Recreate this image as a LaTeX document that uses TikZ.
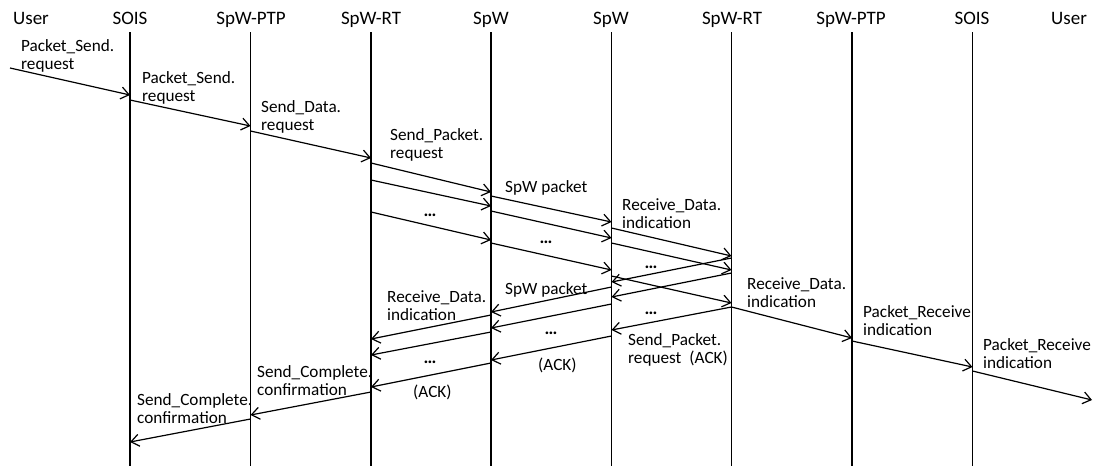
\documentclass[tikz,border=0pt]{standalone}
\usepackage{fontspec}
\setmainfont{Carlito}
\usetikzlibrary{arrows.meta}
\begin{document}
\begin{tikzpicture}[x=1pt,y=-1pt,
  life/.style={line width=1.2pt},
  msg/.style={line width=1.2pt,-{Straight Barb[length=8pt,width=12pt,line width=1.2pt]}},
  hdr/.style={font=\fontsize{19}{22}\selectfont,anchor=base,inner sep=0pt},
  lbl/.style={font=\fontsize{17.2}{18.2}\selectfont,align=left,anchor=north west,inner sep=0pt},
  dotsn/.style={font=\fontsize{18}{20}\selectfont\bfseries,anchor=base,inner sep=0pt}]
\useasboundingbox (0,0) rectangle (1094,466);

% headers
\node[hdr] (hU1) at (31,24.5) {User};
\node[hdr] (hS1) at (130,24.5) {SOIS};
\node[hdr] (hP1) at (251,24.5) {SpW-PTP};
\node[hdr] (hR1) at (371,24.5) {SpW-RT};
\node[hdr] (hW1) at (491,24.5) {SpW};
\node[hdr] (hW2) at (611,24.5) {SpW};
\node[hdr] (hR2) at (732,24.5) {SpW-RT};
\node[hdr] (hP2) at (851,24.5) {SpW-PTP};
\node[hdr] (hS2) at (972,24.5) {SOIS};
\node[hdr] (hU2) at (1069,24.5) {User};

% lifeline coordinates
\coordinate (U1) at (10,32);
\coordinate (S1) at (130,32);
\coordinate (P1) at (250.5,32);
\coordinate (R1) at (371,32);
\coordinate (W1) at (491,32);
\coordinate (W2) at (611.5,32);
\coordinate (R2) at (731.5,32);
\coordinate (P2) at (852,32);
\coordinate (S2) at (972.5,32);
\coordinate (U2) at (1092,32);
\foreach \l in {S1,P1,R1,W1,W2,R2,P2,S2}
  \draw[life] (\l) -- (\l |- 0,466);

% forward messages
\draw[msg] (U1 |- 0,68) -- (S1 |- 0,95);
\draw[msg] (S1 |- 0,100) -- (P1 |- 0,126);
\draw[msg] (P1 |- 0,131) -- (R1 |- 0,158);
\draw[msg] (R1 |- 0,163) -- (W1 |- 0,192);
\draw[msg] (R1 |- 0,180) -- (W1 |- 0,206);
\draw[msg] (R1 |- 0,212) -- (W1 |- 0,240);
\draw[msg] (W1 |- 0,196) -- (W2 |- 0,222);
\draw[msg] (W1 |- 0,211) -- (W2 |- 0,238);
\draw[msg] (W1 |- 0,243) -- (W2 |- 0,270);
\draw[msg] (W2 |- 0,228) -- (R2 |- 0,256);
\draw[msg] (W2 |- 0,243) -- (R2 |- 0,270);
\draw[msg] (W2 |- 0,276) -- (R2 |- 0,303);
\draw[msg] (R2 |- 0,307) -- (P2 |- 0,338);
\draw[msg] (P2 |- 0,341) -- (S2 |- 0,367);
\draw[msg] (S2 |- 0,371) -- (U2 |- 0,400);

% backward messages
\draw[msg] (R2 |- 0,258) -- (W2 |- 0,282);
\draw[msg] (R2 |- 0,273) -- (W2 |- 0,297);
\draw[msg] (R2 |- 0,307) -- (W2 |- 0,330);
\draw[msg] (W2 |- 0,287) -- (W1 |- 0,312);
\draw[msg] (W2 |- 0,304) -- (W1 |- 0,328);
\draw[msg] (W2 |- 0,336) -- (W1 |- 0,360);
\draw[msg] (W1 |- 0,315) -- (R1 |- 0,339);
\draw[msg] (W1 |- 0,332) -- (R1 |- 0,355);
\draw[msg] (W1 |- 0,363) -- (R1 |- 0,387);
\draw[msg] (R1 |- 0,392) -- (P1 |- 0,415);
\draw[msg] (P1 |- 0,419) -- (S1 |- 0,442);

% labels
\node[lbl] (t1) at (21,39) {Packet\_Send.\\request};
\node[lbl] (t2) at (142,71) {Packet\_Send.\\request};
\node[lbl] (t3) at (261,100) {Send\_Data.\\request};
\node[lbl] (t4) at (390,128) {Send\_Packet.\\request};
\node[lbl] (t5) at (505,180) {SpW packet};
\node[lbl] (t6) at (622,198) {Receive\_Data.\\indication};
\node[lbl] (t7) at (505,282) {SpW packet};
\node[lbl] (t8) at (387,290) {Receive\_Data.\\indication};
\node[lbl] (t9) at (628,333) {Send\_Packet.\\request\hspace{8pt}(ACK)};
\node[lbl] (t10) at (538,358) {(ACK)};
\node[lbl] (t11) at (413,385) {(ACK)};
\node[lbl] (t12) at (747,277) {Receive\_Data.\\indication};
\node[lbl] (t13) at (863,305) {Packet\_Receive\\indication};
\node[lbl] (t14) at (983,338) {Packet\_Receive\\indication};
\node[lbl] (t15) at (257,365) {Send\_Complete.\\confirmation};
\node[lbl] (t16) at (137,393) {Send\_Complete.\\confirmation};

% ellipses
\node[dotsn] (d1) at (430,216) {…};
\node[dotsn] (d2) at (546,243) {…};
\node[dotsn] (d3) at (651,268) {…};
\node[dotsn] (d4) at (651,314) {…};
\node[dotsn] (d5) at (551,334) {…};
\node[dotsn] (d6) at (430,363) {…};
\end{tikzpicture}
\end{document}
